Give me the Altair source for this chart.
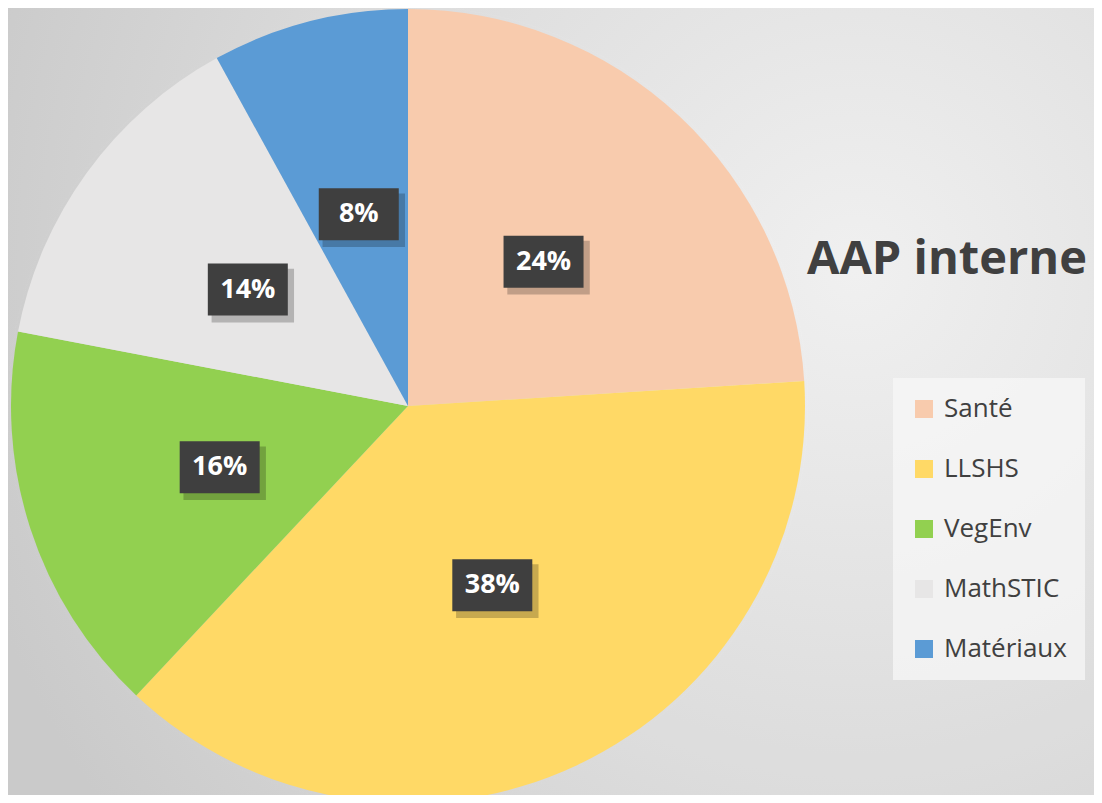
import altair as alt
import pandas as pd

categories = ["Santé", "LLSHS", "VegEnv", "MathSTIC", "Matériaux"]
values = [24, 38, 16, 14, 8]
labels = ["24%", "38%", "16%", "14%", "8%"]
colors = ["#F8CBAD", "#FFD966", "#92D050", "#E7E6E6", "#5B9BD5"]
title_text = "AAP interne"

W, H = 1086, 787
CX, CY, R = 400, 398, 397
LR = 198

df = pd.DataFrame({"category": categories, "value": values, "label": labels,
                   "order": list(range(len(categories)))})

bg = alt.Chart(pd.DataFrame({"a": [0]})).mark_rect(
    color=alt.Gradient(gradient="radial", x1=0.78, y1=0.38, x2=0.78, y2=0.38, r1=0, r2=0.85,
                       stops=[alt.GradientStop(color="#FAFAFA", offset=0),
                              alt.GradientStop(color="#E8E8E8", offset=0.5),
                              alt.GradientStop(color="#D3D3D3", offset=1)])
).encode(x=alt.value(0), x2=alt.value(W), y=alt.value(0), y2=alt.value(H))

halo = alt.Chart(pd.DataFrame({"r": [R + 3, R + 6, R + 10, R + 15, R + 21]})).mark_arc(
    innerRadius=R - 2, theta=0, theta2=6.2832, color="#000000", opacity=0.04
).encode(x=alt.value(CX), y=alt.value(CY), radius=alt.Radius("r:Q", scale=None))

pie = alt.Chart(df).mark_arc(outerRadius=R, stroke=None).encode(
    x=alt.value(CX), y=alt.value(CY),
    theta=alt.Theta("value:Q", stack=True),
    order=alt.Order("order:Q"),
    color=alt.Color("category:N",
                    scale=alt.Scale(domain=categories, range=colors),
                    sort=categories,
                    legend=alt.Legend(title=None, orient="none", legendX=885, legendY=370,
                                      symbolType="square", symbolSize=324, symbolStrokeWidth=0,
                                      labelFontSize=26, labelColor="#404040", labelFont="Open Sans",
                                      rowPadding=34, padding=18, fillColor="rgba(247,247,247,0.75)",
                                      labelOffset=7, symbolOpacity=1))
)

lbl_base = alt.Chart(df).transform_window(
    cum="sum(value)", sort=[alt.SortField("order")]
).transform_joinaggregate(
    total="sum(value)"
).transform_calculate(
    mid="(datum.cum - datum.value / 2) / datum.total * 2 * PI",
    px=f"{CX} + {LR} * sin(datum.mid)",
    py=f"{CY} - {LR} * cos(datum.mid)",
    sx="datum.px + 5",
    sy="datum.py + 6",
)

box_shape = "M-1,-0.65L1,-0.65L1,0.65L-1,0.65Z"
shadow = lbl_base.mark_point(shape=box_shape, size=6800, filled=True, color="#000000",
                             opacity=0.22, strokeWidth=0).encode(
    x=alt.X("sx:Q", scale=None), y=alt.Y("sy:Q", scale=None))
box = lbl_base.mark_point(shape=box_shape, size=6400, filled=True, color="#3F3F3F",
                          opacity=1, strokeWidth=0).encode(
    x=alt.X("px:Q", scale=None), y=alt.Y("py:Q", scale=None))
txt = lbl_base.mark_text(font="Open Sans", fontWeight="bold", fontSize=27, color="#FFFFFF",
                         align="center", baseline="middle").encode(
    x=alt.X("px:Q", scale=None), y=alt.Y("py:Q", scale=None), text="label:N")

title = alt.Chart(pd.DataFrame({"t": [title_text]})).mark_text(
    font="Open Sans", fontWeight="bold", fontSize=47, color="#404040",
    align="center", baseline="middle"
).encode(x=alt.value(939), y=alt.value(252), text="t:N")

chart = alt.layer(bg, halo, pie, shadow, box, txt, title).properties(
    width=W, height=H, padding=0, autosize=alt.AutoSizeParams(type="none")
).configure_view(stroke=None).configure(background="#DCDCDC")

chart.save("out.html", embed_options={"renderer": "svg", "actions": False})
